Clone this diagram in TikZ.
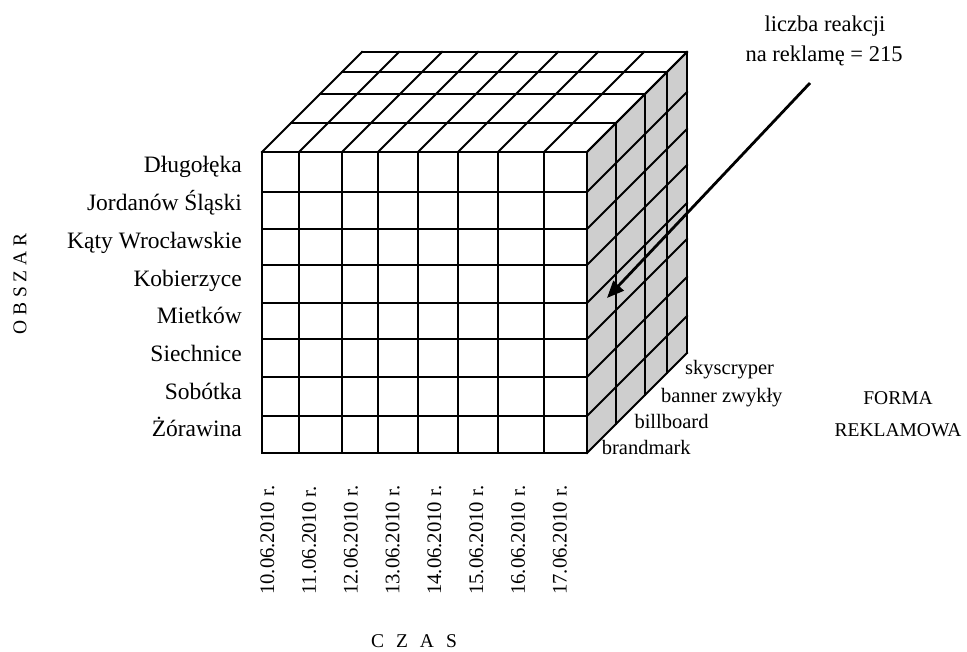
\documentclass[tikz,border=0pt]{standalone}
\usepackage{fontspec}
\setmainfont{Liberation Serif}
\usetikzlibrary{arrows.meta}
\definecolor{sidegray}{RGB}{206,206,206}
\begin{document}
\begin{tikzpicture}[x=1pt,y=-1pt,
  grid/.style={line width=1.9pt, line cap=rect},
  rowlab/.style={inner sep=0pt, anchor=base east, font=\fontsize{23.5}{28}\selectfont},
  datelab/.style={inner sep=0pt, anchor=base west, rotate=90, font=\fontsize{20.7}{24}\selectfont},
  formlab/.style={inner sep=0pt, anchor=base west, font=\fontsize{20.5}{24}\selectfont},
  axislab/.style={inner sep=0pt, font=\fontsize{19.5}{24}\selectfont},
  notelab/.style={inner sep=0pt, anchor=base, font=\fontsize{22.5}{27}\selectfont}]
\useasboundingbox (0,0) rectangle (967,652);

% side face (shaded)
\fill[sidegray] (587,152) -- (687,52) -- (687,353) -- (587,453) -- cycle;

% front face: columns and rows
\foreach \x in {262,299,342,378,418,458,498,544,587}
  \draw[grid] (\x,152) -- (\x,453);
\foreach \y in {152,192,229,265,303,339,377,416,453}
  \draw[grid] (262,\y) -- (587,\y);

% top face: depth layers and receding column lines
\foreach \d in {29,58,80,100}
  \draw[grid] ({262+\d},{152-\d}) -- ({587+\d},{152-\d});
\foreach \x in {262,299,342,378,418,458,498,544,587}
  \draw[grid] (\x,152) -- ({\x+100},52);

% side face: receding row lines and depth layers
\foreach \y in {152,192,229,265,303,339,377,416,453}
  \draw[grid] (587,\y) -- (687,{\y-100});
\foreach \d in {29,58,80,100}
  \draw[grid] ({587+\d},{152-\d}) -- ({587+\d},{453-\d});

% area labels
\node[rowlab] (r1) at (242,173.0) {Długołęka};
\node[rowlab] (r2) at (242,210.7) {Jordanów Śląski};
\node[rowlab] (r3) at (242,248.4) {Kąty Wrocławskie};
\node[rowlab] (r4) at (242,286.1) {Kobierzyce};
\node[rowlab] (r5) at (242,323.8) {Mietków};
\node[rowlab] (r6) at (242,361.5) {Siechnice};
\node[rowlab] (r7) at (242,399.2) {Sobótka};
\node[rowlab] (r8) at (242,436.9) {Żórawina};

% time labels
\node[datelab] (t1) at (274.0,595) {10.06.2010 r.};
\node[datelab] (t2) at (315.8,595) {11.06.2010 r.};
\node[datelab] (t3) at (357.6,595) {12.06.2010 r.};
\node[datelab] (t4) at (399.4,595) {13.06.2010 r.};
\node[datelab] (t5) at (441.2,595) {14.06.2010 r.};
\node[datelab] (t6) at (483.0,595) {15.06.2010 r.};
\node[datelab] (t7) at (524.8,595) {16.06.2010 r.};
\node[datelab] (t8) at (566.6,595) {17.06.2010 r.};

% advertising form labels
\node[formlab] (f1) at (685,375) {skyscryper};
\node[formlab] (f2) at (661,402.7) {banner zwykły};
\node[formlab] (f3) at (634.3,428.3) {billboard};
\node[formlab] (f4) at (601.7,454) {brandmark};

% axis titles
\node[axislab, rotate=90] (obszar) at (20,284) {O B S Z A R};
\node[axislab, anchor=base] (czas) at (414,647.3) {C\hspace{12pt}Z\hspace{12pt}A\hspace{12pt}S};
\node[axislab, anchor=base] (forma1) at (898,405) {FORMA};
\node[axislab, anchor=base] (forma2) at (898,436.7) {REKLAMOWA};

% cell annotation
\node[notelab] (note1) at (825,31.7) {liczba reakcji};
\node[notelab] (note2) at (824,61.7) {na reklamę = 215};
\coordinate (arrowtail) at (810,83);
\coordinate (cell) at (607,298);
\draw[line width=2.8pt, -{Triangle[length=17pt,width=14pt]}] (arrowtail) -- (cell);
\end{tikzpicture}
\end{document}
